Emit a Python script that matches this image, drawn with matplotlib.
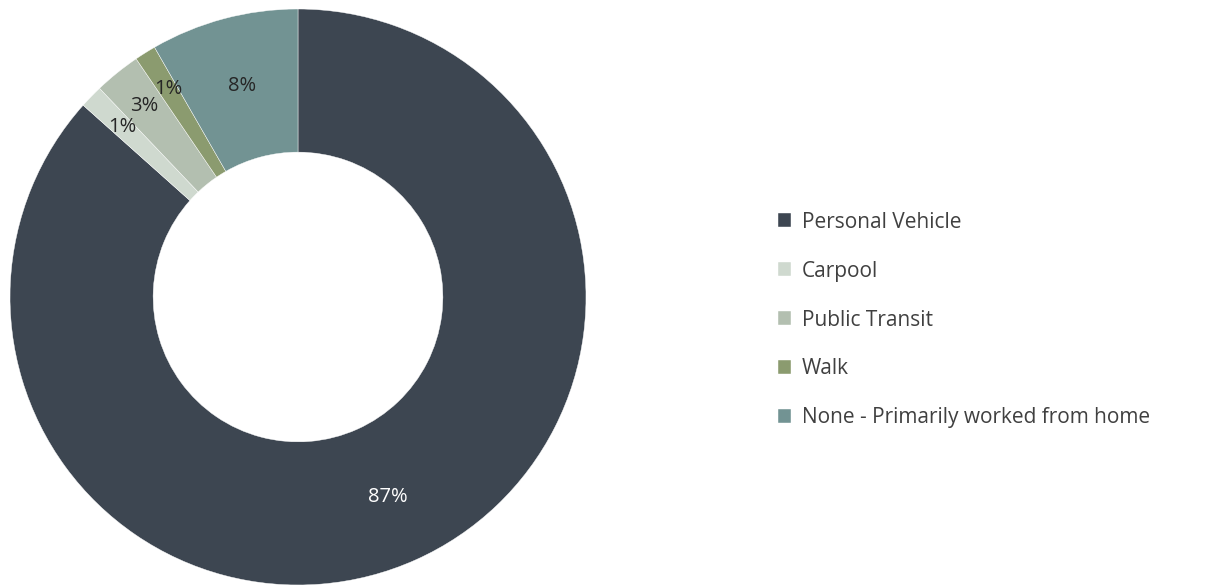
import numpy as np
import matplotlib
matplotlib.use('Agg')
import matplotlib.pyplot as plt

plt.rcParams['font.family'] = ['Open Sans', 'DejaVu Sans']

# Commute mode shares (%)
modes = ['Personal Vehicle', 'Carpool', 'Public Transit', 'Walk',
         'None - Primarily worked from home']
shares = [86.6, 1.3, 2.6, 1.2, 8.3]
colors = ['#3d4651', '#cfd9cf', '#b3bfb0', '#8b9b6f', '#729393']
label_colors = ['white', '#262626', '#262626', '#262626', '#262626']

W, H = 1205, 586
fig = plt.figure(figsize=(W / 100, H / 100), dpi=100)

# donut axes: centre at (298, 297) px, outer radius 288 px
r_px = 288
cx, cy = 298, 297
ax = fig.add_axes([(cx - r_px) / W, (H - cy - r_px) / H,
                   2 * r_px / W, 2 * r_px / H])

wedges, texts, autotexts = ax.pie(
    shares,
    colors=colors,
    startangle=90,
    counterclock=False,
    radius=1.0,
    autopct='%.0f%%',
    pctdistance=0.76,
    wedgeprops=dict(width=0.497, edgecolor='white', linewidth=0.3),
    textprops=dict(fontsize=14.5),
)
ax.set_xlim(-1, 1)
ax.set_ylim(-1, 1)
ax.set_aspect('equal')
ax.axis('off')

# small slices: push labels outward towards the rim
for w, t, c, s in zip(wedges, autotexts, label_colors, shares):
    t.set_color(c)
    if s < 5:
        mid = np.deg2rad((w.theta1 + w.theta2) / 2)
        t.set_position((0.85 * np.cos(mid), 0.85 * np.sin(mid)))

fig.legend(
    wedges, modes,
    loc='center left',
    bbox_to_anchor=(759 / W, 1 - 320 / H),
    frameon=False,
    fontsize=15,
    handlelength=0.65,
    handleheight=0.65,
    handletextpad=0.5,
    labelspacing=1.34,
    labelcolor='#404040',
)

fig.savefig('out.png', dpi=100, facecolor='white')
